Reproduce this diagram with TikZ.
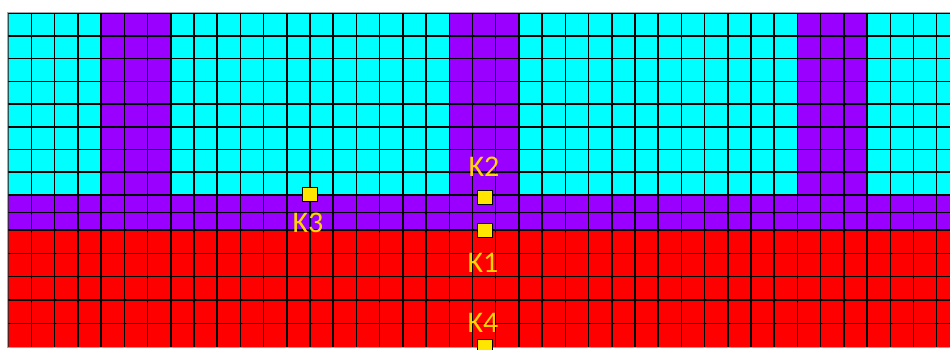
\documentclass[tikz,border=0pt]{standalone}
\usepackage{fontspec}
\setmainfont{Carlito}
\definecolor{cellcyan}{RGB}{0,255,255}
\definecolor{cellpurple}{RGB}{153,0,255}
\definecolor{cellred}{RGB}{255,0,0}
\definecolor{markyellow}{RGB}{255,230,0}
\definecolor{labelyellow}{RGB}{255,214,0}
\tikzset{
  gridline/.style={black, line width=1.5pt},
  marker/.style={draw=black, line width=0.8pt, fill=markyellow, minimum width=15pt, minimum height=14pt, inner sep=0pt},
  klabel/.style={text=labelyellow, font=\fontsize{30}{30}\selectfont, inner sep=0pt},
}
\begin{document}
\begin{tikzpicture}[x=1pt,y=-1pt]
\useasboundingbox (0,0) rectangle (950,349);
\def\xo{8.3}
\def\cw{23.21}
\begin{scope}
\clip (\xo,13.3) rectangle (950,346.8);
% background bands
\fill[cellcyan] (\xo,13.3) rectangle (950,195);
\foreach \c in {4,19,34} {
  \fill[cellpurple] ({\xo+\c*\cw},13.3) rectangle ({\xo+(\c+3)*\cw},195);
}
\fill[cellpurple] (\xo,195) rectangle (950,230);
\fill[cellred] (\xo,230) rectangle (950,346.8);
% vertical lines
\foreach \k in {0,...,41} {
  \draw[gridline] ({\xo+\k*\cw},13.3) -- ({\xo+\k*\cw},346.8);
}
% horizontal lines
\foreach \y in {13.3,36.0,58.7,81.4,104.1,126.8,149.5,172.2,195.0,212.5,230.0,253.3,276.7,300.0,323.4} {
  \draw[gridline] (\xo,\y) -- (950,\y);
}
\end{scope}
% gray frame
\draw[gray!70, line width=1.3pt] (950,12.6) -- (7.6,12.6) -- (7.6,347.5) -- (950,347.5);
% markers
\node[marker] (k2) at (484.5,197) {};
\node[marker] (k1) at (484.5,230.3) {};
\node[marker] (k4) at (484.5,346.5) {};
\node[marker] (k3) at (310,194) {};
% labels
\node[klabel] (lk2) at (484,167) {K2};
\node[klabel] (lk1) at (483,262.5) {K1};
\node[klabel] (lk4) at (483,323) {K4};
\node[klabel] (lk3) at (308,222.5) {K3};
\end{tikzpicture}
\end{document}
